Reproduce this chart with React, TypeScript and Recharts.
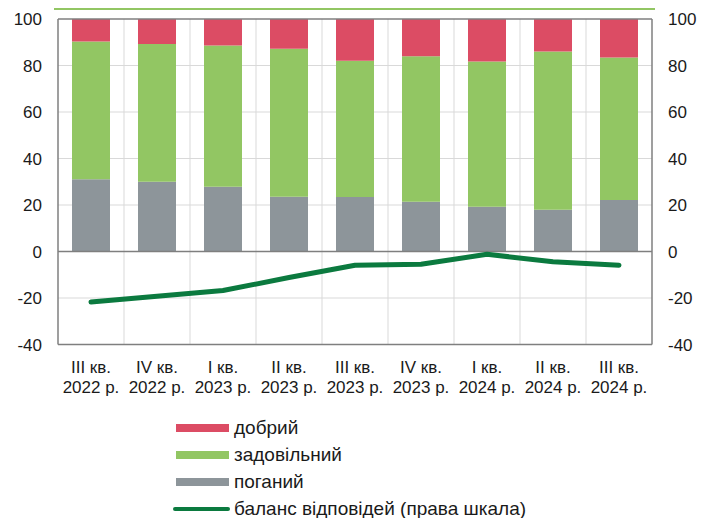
import React from 'react';
import {
  ComposedChart, Bar, Line, XAxis, YAxis, CartesianGrid, ReferenceLine,
} from 'recharts';

const quarters = ['III кв.', 'IV кв.', 'I кв.', 'II кв.', 'III кв.', 'IV кв.', 'I кв.', 'II кв.', 'III кв.'];
const years = ['2022 р.', '2022 р.', '2023 р.', '2023 р.', '2023 р.', '2023 р.', '2024 р.', '2024 р.', '2024 р.'];
const bad = [31.1, 30.0, 27.8, 23.5, 23.4, 21.4, 19.3, 18.0, 22.1];
const satisfactory = [59.2, 59.3, 60.8, 63.7, 58.6, 62.6, 62.4, 68.0, 61.3];
const good = [9.7, 10.7, 11.4, 12.8, 18.0, 16.0, 18.3, 14.0, 16.6];
const balance = [-21.7, -19.2, -16.8, -11.2, -5.9, -5.5, -1.2, -4.4, -5.9];
const yTicks = [-40, -20, 0, 20, 40, 60, 80, 100];

const data = quarters.map((q, i) => ({
  name: `${q}|${years[i]}`,
  bad: bad[i],
  satisfactory: satisfactory[i],
  good: good[i],
  balance: balance[i],
}));

const RED = '#dc4c64';
const GREEN = '#92c663';
const GRAY = '#8d959a';
const DARK = '#0b7a3f';
const AXIS = '#7f7f7f';
const FONT = '"Liberation Sans", Arial, sans-serif';

const XTick = (props: any) => {
  const { x, y, payload } = props;
  const [q, yr] = String(payload.value).split('|');
  return (
    <text x={x} y={y} textAnchor="middle" fill="#1a1a1a" fontSize={17} fontFamily={FONT}>
      <tspan x={x} dy={28.5}>{q}</tspan>
      <tspan x={x} dy={20}>{yr}</tspan>
    </text>
  );
};

const legendItems = [
  { label: 'добрий', color: RED, line: false },
  { label: 'задовільний', color: GREEN, line: false },
  { label: 'поганий', color: GRAY, line: false },
  { label: 'баланс відповідей (права шкала)', color: DARK, line: true },
];

const App: React.FC = () => {
  const tickStyle = { fill: '#1a1a1a', fontSize: 17, fontFamily: FONT };
  return (
    <div style={{ position: 'absolute', left: 0, top: 0, width: 702, height: 518, background: '#fff', fontFamily: FONT }}>
      <div style={{ position: 'absolute', left: 54, top: 7.5, width: 601, height: 2, background: GREEN }} />
      <ComposedChart
        width={702}
        height={400}
        data={data}
        margin={{ top: 19, right: 0, left: 8, bottom: 10.5 }}
        barSize={38}
      >
        <CartesianGrid
          yAxisId="left"
          stroke="#d9d9d9"
          strokeWidth={1}
          horizontalValues={[-20, 20, 40, 60, 80]}
          verticalCoordinatesGenerator={({ offset }: any) =>
            quarters.slice(1).map((_, i) => offset.left + ((i + 1) * offset.width) / quarters.length)
          }
        />
        <XAxis
          dataKey="name"
          tick={<XTick />}
          tickLine={false}
          tickSize={0}
          tickMargin={0}
          height={45}
          interval={0}
          axisLine={{ stroke: AXIS, strokeWidth: 1.5 }}
        />
        <YAxis
          yAxisId="left"
          domain={[-40, 100]}
          ticks={yTicks}
          interval={0}
          width={50}
          tick={tickStyle}
          tickLine={false}
          tickSize={0}
          tickMargin={16}
          axisLine={{ stroke: AXIS, strokeWidth: 1.5 }}
        />
        <YAxis
          yAxisId="right"
          orientation="right"
          domain={[-40, 100]}
          ticks={yTicks}
          interval={0}
          width={50}
          tick={{ ...tickStyle, textAnchor: 'start' }}
          tickLine={false}
          tickSize={0}
          tickMargin={16}
          axisLine={{ stroke: AXIS, strokeWidth: 1.5 }}
        />
        <Bar yAxisId="left" dataKey="bad" stackId="s" fill={GRAY} isAnimationActive={false} />
        <Bar yAxisId="left" dataKey="satisfactory" stackId="s" fill={GREEN} isAnimationActive={false} />
        <Bar yAxisId="left" dataKey="good" stackId="s" fill={RED} isAnimationActive={false} />
        <ReferenceLine yAxisId="left" y={100} stroke={AXIS} strokeWidth={1.5} />
        <ReferenceLine yAxisId="left" y={0} stroke={AXIS} strokeWidth={1.5} />
        <Line
          yAxisId="right"
          dataKey="balance"
          type="linear"
          stroke={DARK}
          strokeWidth={5}
          strokeLinecap="round"
          strokeLinejoin="round"
          dot={false}
          activeDot={false}
          isAnimationActive={false}
        />
      </ComposedChart>
      {legendItems.map((it, i) => (
        <div
          key={it.label}
          style={{ position: 'absolute', left: 173, top: 415 + i * 27, height: 26, display: 'flex', alignItems: 'center' }}
        >
          {it.line ? (
            <div style={{ width: 57, height: 4.5, borderRadius: 3, background: it.color, marginLeft: 0 }} />
          ) : (
            <div style={{ width: 53, height: 8, background: it.color, marginLeft: 3, marginRight: 1 }} />
          )}
          <span style={{ fontSize: 19, color: '#1a1a1a', marginLeft: 4, whiteSpace: 'nowrap' }}>{it.label}</span>
        </div>
      ))}
    </div>
  );
};

export default App;
